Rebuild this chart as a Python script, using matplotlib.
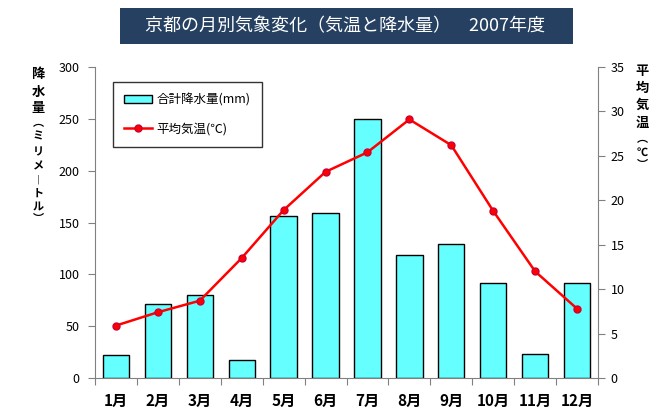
import matplotlib
matplotlib.use("Agg")
import matplotlib.pyplot as plt
from matplotlib.patches import Rectangle, Patch
from matplotlib.lines import Line2D
import numpy as np

plt.rcParams['font.family'] = ['Noto Sans CJK JP', 'DejaVu Sans']

months = ["1月", "2月", "3月", "4月", "5月", "6月", "7月", "8月", "9月", "10月", "11月", "12月"]
rain = [22, 71, 80, 17, 156, 159, 250, 119, 129, 92, 23, 92]
temp = [5.9, 7.4, 8.7, 13.5, 18.9, 23.2, 25.4, 29.1, 26.2, 18.8, 12.0, 7.8]
title = "京都の月別気象変化（気温と降水量）　2007年度"
left_label = ["降", "水", "量", "︵", "ミ", "リ", "メ", "︱", "ト", "ル", "︶"]
right_label = ["平", "均", "気", "温", "︵", "℃", "︶"]
legend_labels = ["合計降水量(mm)", "平均気温(℃)"]

W, H = 671, 417
fig = plt.figure(figsize=(W / 100, H / 100), dpi=100)
fig.patch.set_facecolor("white")

def px(x, y):
    return x / W, 1 - y / H

l, r, t, b = 95, 598, 67, 378
ax = fig.add_axes([l / W, 1 - b / H, (r - l) / W, (b - t) / H])
ax2 = ax.twinx()

x = np.arange(len(months))
ax.bar(x, rain, width=0.63, color="#66FFFF", edgecolor="black", linewidth=1, zorder=2)
ax.set_xlim(-0.5, len(months) - 0.5)
ax.set_ylim(0, 300)
ax.set_yticks(range(0, 301, 50))
ax2.plot(x, temp, color="#FF0000", linewidth=1.8, marker="o", markersize=5,
         markerfacecolor="#FF0000", markeredgecolor="#CC0033", zorder=3)
ax2.set_ylim(0, 35)
ax2.set_yticks(range(0, 36, 5))

# x ticks at category boundaries
ax.set_xticks(np.arange(-0.5, len(months), 1.0))
ax.set_xticklabels([])
ax.set_xticks(x, minor=True)
ax.set_xticklabels(months, minor=True, fontsize=11, fontweight="bold")
ax.tick_params(axis="x", which="minor", length=0, pad=11)
ax.tick_params(axis="x", which="major", length=5, color="#808080", direction="out")

for a in (ax, ax2):
    a.spines["top"].set_visible(False)
    for s in ("left", "right", "bottom"):
        a.spines[s].set_color("#808080")
ax.spines["right"].set_visible(False)
ax2.spines["left"].set_visible(False)
ax2.spines["bottom"].set_visible(False)
ax.tick_params(axis="y", length=5, color="#808080", labelsize=9, pad=6)
ax2.tick_params(axis="y", length=5, color="#808080", labelsize=9, pad=4)
ax.set_facecolor("none")

# title box
x0, y0 = px(120, 44)
fig.patches.append(Rectangle((x0, y0), (573 - 120) / W, (44 - 8) / H,
                             transform=fig.transFigure, facecolor="#254061",
                             edgecolor="none", zorder=0))
tx, ty = px(345, 26)
fig.text(tx, ty, title, color="white", fontsize=13, ha="center", va="center")

# vertical labels
left_y = [74, 92, 108, 123, 136, 152, 166, 180, 193, 207, 219]
for ch, yy in zip(left_label, left_y):
    fx, fy = px(38, yy)
    big = ch in "降水量"
    fig.text(fx, fy, ch, fontsize=9.5 if big else 8, fontweight="bold",
             ha="center", va="center")
right_y = [71, 88, 105, 123, 139, 152, 165]
for ch, yy in zip(right_label, right_y):
    fx, fy = px(642, yy)
    big = ch in "平均気温"
    fig.text(fx, fy, ch, fontsize=9.5 if big else 8, fontweight="bold",
             ha="center", va="center")

# legend
handles = [Patch(facecolor="#66FFFF", edgecolor="black", linewidth=1),
           Line2D([0], [0], color="#FF0000", linewidth=1.8, marker="o", markersize=5,
                  markerfacecolor="#FF0000", markeredgecolor="#CC0033")]
lx, ly = px(113, 82)
leg = fig.legend(handles, legend_labels, loc="upper left", bbox_to_anchor=(lx, ly),
                 bbox_transform=fig.transFigure, fontsize=9, frameon=True,
                 fancybox=False, edgecolor="black", labelspacing=1.3,
                 borderpad=0.9, handlelength=2.2, handletextpad=0.4,
                 borderaxespad=0)
leg.get_frame().set_linewidth(1)

fig.savefig("out.png", dpi=100)
